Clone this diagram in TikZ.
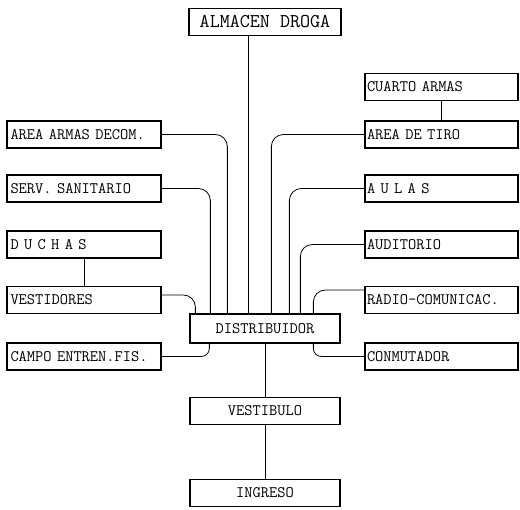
\documentclass[tikz,border=0pt]{standalone}
\tikzset{
  box/.style={draw, line width=1.3pt, minimum height=27pt, inner ysep=0pt,
    font=\ttfamily\fontsize{16}{18}\selectfont},
  lbox/.style={box, text width=147pt, inner xsep=3.5pt, align=left},
  rbox/.style={box, text width=149pt, inner xsep=2pt, align=left},
  cbox/.style={box, minimum width=150pt, align=center},
  link/.style={line width=0.8pt, rounded corners=12pt},
}
\begin{document}
\begin{tikzpicture}[x=1pt,y=-1pt]
  \useasboundingbox (0,0) rectangle (520,510);
  % central column
  \node[cbox, minimum width=152pt, font=\ttfamily\fontsize{19.5}{21}\selectfont] (alm) at (265,22) {ALMACEN DROGA};
  \node[cbox, minimum height=29pt] (dist) at (265,328.5) {DISTRIBUIDOR};
  \node[cbox] (vestib) at (265,411) {VESTIBULO};
  \node[cbox] (ingreso) at (265,493) {INGRESO};
  % left column
  \node[lbox] (armas) at (84,134.5) {AREA ARMAS DECOM.};
  \node[lbox] (serv) at (84,188.5) {SERV. SANITARIO};
  \node[lbox] (duchas) at (84,244.5) {D U C H A S};
  \node[lbox] (vest) at (84,300) {VESTIDORES};
  \node[lbox] (campo) at (84,356.5) {CAMPO ENTREN.FIS.};
  % right column
  \node[rbox] (cuarto) at (441.5,87) {CUARTO ARMAS};
  \node[rbox] (tiro) at (441.5,134.5) {AREA DE TIRO};
  \node[rbox] (aulas) at (441.5,188.5) {A U L A S};
  \node[rbox] (audit) at (441.5,244.5) {AUDITORIO};
  \node[rbox] (radio) at (441.5,300) {RADIO-COMUNICAC.};
  \node[rbox] (conm) at (441.5,356.5) {CONMUTADOR};
  % connectors
  \draw[link] ([xshift=-17pt]alm.south) -- ([xshift=-17pt]alm.south |- dist.north);
  \draw[link] (armas.east) -| ([xshift=38pt]dist.north west);
  \draw[link] (serv.east) -| ([xshift=21pt]dist.north west);
  \draw[link] ([yshift=5pt]vest.east) -| ([xshift=6pt]dist.north west);
  \draw[link] (tiro.west) -| ([xshift=82pt]dist.north west);
  \draw[link] (aulas.west) -| ([xshift=100pt]dist.north west);
  \draw[link] (audit.west) -| ([xshift=111pt]dist.north west);
  \draw[link] ([yshift=10pt]radio.west) -| ([xshift=124pt]dist.north west);
  \draw[link, rounded corners=8pt] (campo.east) -| ([xshift=20pt]dist.south west);
  \draw[link, rounded corners=8pt] (conm.west) -| ([xshift=124pt]dist.south west);
  \draw[link] (duchas.south) -- (vest.north);
  \draw[link] (cuarto.south) -- (tiro.north);
  \draw[link] (dist.south) -- (vestib.north);
  \draw[link] (vestib.south) -- (ingreso.north);
\end{tikzpicture}
\end{document}
